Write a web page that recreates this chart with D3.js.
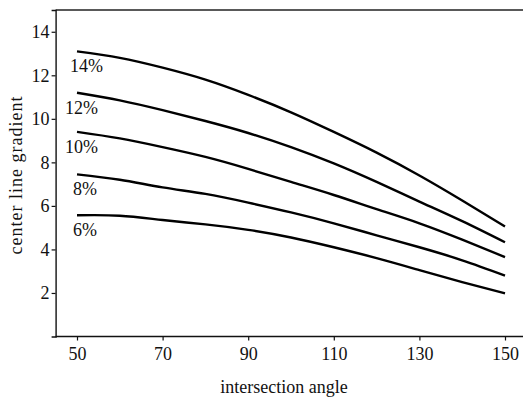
<!DOCTYPE html>
<html lang="en">
<head>
<meta charset="UTF-8">
<title>Center line gradient</title>
<script src="https://d3js.org/d3.v7.min.js"></script>
<style>
  body { margin: 0; background: #fff; }
  text { font-family: "Liberation Serif", "Times New Roman", serif; fill: #111; }
</style>
</head>
<body>
<script>
// intersection angles
var angles = [50, 60, 70, 80, 90, 100, 110, 120, 130, 140, 150];
var grade6  = [5.57, 5.55, 5.35, 5.15, 4.9, 4.55, 4.1, 3.6, 3.05, 2.5, 1.98];
var grade8  = [7.45, 7.2, 6.85, 6.55, 6.15, 5.7, 5.2, 4.65, 4.1, 3.5, 2.8];
var grade10 = [9.4, 9.1, 8.7, 8.25, 7.7, 7.1, 6.5, 5.85, 5.2, 4.45, 3.65];
var grade12 = [11.2, 10.85, 10.4, 9.9, 9.35, 8.7, 7.95, 7.1, 6.2, 5.3, 4.33];
var grade14 = [13.1, 12.8, 12.35, 11.8, 11.1, 10.3, 9.4, 8.45, 7.4, 6.25, 5.05];
var seriesNames = ["6%", "8%", "10%", "12%", "14%"];
var xTicks = [50, 70, 90, 110, 130, 150];
var yTicks = [2, 4, 6, 8, 10, 12, 14];

var series = [grade6, grade8, grade10, grade12, grade14].map(function(vals, i) {
  return { name: seriesNames[i], values: vals.map(function(v, j) { return [angles[j], v]; }) };
});

var width = 523, height = 398;
var svg = d3.select("body").append("svg").attr("width", width).attr("height", height);

var x = d3.scaleLinear().domain([45, 155]).range([55.6, 526.4]);
var y = d3.scaleLinear().domain([0, 15]).range([336.5, 10]);

// frame: top line
svg.append("line")
  .attr("x1", x(45)).attr("x2", width).attr("y1", y(15)).attr("y2", y(15))
  .attr("stroke", "#222").attr("stroke-width", 1.3);

var xAxis = svg.append("g").attr("transform", "translate(0," + y(0) + ")")
  .call(d3.axisBottom(x).tickValues(xTicks).tickSize(4).tickPadding(7));
var yAxis = svg.append("g").attr("transform", "translate(" + x(45) + ",0)")
  .call(d3.axisLeft(y).tickValues(yTicks).tickSize(4).tickPadding(2));

[xAxis, yAxis].forEach(function(g) {
  g.attr("font-family", null);
  g.select(".domain").attr("stroke", "#111").attr("stroke-width", 1.4);
  g.selectAll(".tick line").attr("stroke", "#111").attr("stroke-width", 1.2);
  g.selectAll(".tick text").attr("font-size", 18).attr("fill", "#111");
});
xAxis.select(".domain").attr("d", "M" + x(45) + ",0H" + width);

var line = d3.line()
  .x(function(d) { return x(d[0]); })
  .y(function(d) { return y(d[1]); })
  .curve(d3.curveNatural);

svg.selectAll(".curve").data(series).enter().append("path")
  .attr("class", "curve")
  .attr("d", function(d) { return line(d.values); })
  .attr("fill", "none")
  .attr("stroke", "#000")
  .attr("stroke-width", 2.4);

// labels sit just below the start of each curve
svg.selectAll(".lab").data(series).enter().append("text")
  .attr("class", "lab")
  .attr("x", function(d) { return x(50) - (d.name === "14%" ? 7 : d.name.length > 2 ? 12 : 4); })
  .attr("y", function(d) { return y(d.values[0][1]) + 21; })
  .attr("font-size", 18)
  .text(function(d) { return d.name; });

svg.append("text")
  .attr("x", 284).attr("y", 393)
  .attr("text-anchor", "middle").attr("font-size", 18)
  .text("intersection angle");

svg.append("text")
  .attr("transform", "translate(22,175) rotate(-90)")
  .attr("text-anchor", "middle").attr("font-size", 18)
  .attr("letter-spacing", 1)
  .text("center line gradient");
</script>
</body>
</html>
